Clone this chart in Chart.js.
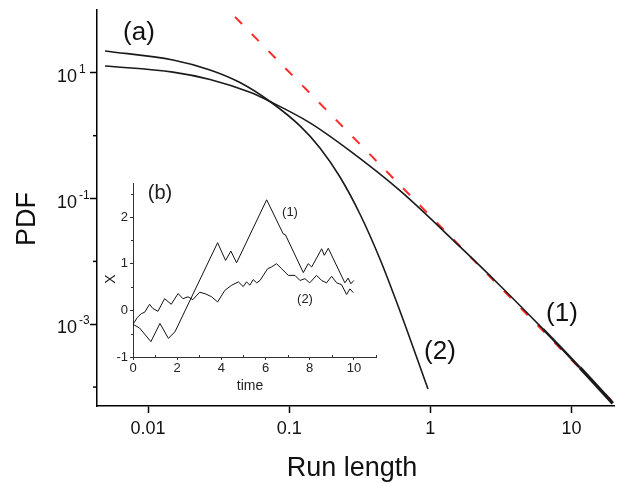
<!DOCTYPE html>
<html>
<head>
<meta charset="utf-8">
<script src="https://cdn.jsdelivr.net/npm/chart.js@4.4.0/dist/chart.umd.min.js"></script>
<style>
  html, body { margin: 0; padding: 0; background: #fff; }
  #wrap { position: relative; width: 620px; height: 483px; }
  #wrap canvas { position: absolute; left: 0; top: 0; }
</style>
</head>
<body>
<div id="wrap">
  <canvas id="main" width="620" height="483"></canvas>
  <canvas id="inset" width="620" height="483"></canvas>
</div>
<script>
// ---- panel (a): run length PDFs (log-log) ----
const curve1X = [0.00496, 0.01503, 0.0275, 0.0528, 0.0731, 0.1404, 0.2696, 0.6125, 1.62, 3.11, 6.27, 11.47, 19.6];
const curve1Y = [12.85, 10.28, 7.84, 4.90, 3.5, 1.60, 0.573, 0.1323, 0.01714, 4.14e-3, 8.43e-4, 2.04e-4, 5.52e-5];

const curve2X = [0.00496, 0.01503, 0.0275, 0.0448, 0.0731, 0.1193, 0.1652, 0.229, 0.317, 0.4395, 0.609, 0.962];
const curve2Y = [22.3, 16.0, 11.1, 7.0, 3.5, 1.43, 0.637, 0.220, 0.0568, 0.01092, 1.625e-3, 9.3e-5];

// red dashed power-law guide
const fitX = [0.0413, 19.6];
const fitY = [77.8, 5.8e-5];

const xTickValues = [0.01, 0.1, 1, 10];
const xTickLabels = ['0.01', '0.1', '1', '10'];
const yMajorTicks = [10, 0.1, 0.001];
const yLabelPowers = [1, -1, -3];
const yMinorTicks = [1, 0.01, 0.0001];

// ---- panel (b): sample trajectories ----
const time1 = [0, 0.3, 0.81, 1.22, 1.6, 1.9, 3.83, 4.19, 4.43, 4.69, 6.05, 6.8, 6.9, 7.71, 7.93, 8.09, 8.54, 8.66, 8.84, 9.59, 9.74, 9.86, 10.0];
const pos1 = [-0.3, -0.38, -0.67, -0.28, -0.6, -0.46, 1.45, 1.07, 1.27, 1.02, 2.37, 1.64, 1.62, 0.81, 1.0, 0.93, 1.32, 1.18, 1.33, 0.59, 0.69, 0.57, 0.64];

const time2 = [0, 0.2, 0.38, 0.53, 0.75, 0.9, 1.13, 1.43, 1.73, 2.04, 2.26, 2.49, 2.71, 3.02, 3.3, 3.56, 3.83, 4.16, 4.47, 4.77, 4.99, 5.14, 5.29, 5.44, 5.6, 5.75, 6.09, 6.27, 6.5, 6.73, 7.03, 7.33, 7.56, 7.78, 8.0, 8.31, 8.54, 8.76, 8.99, 9.22, 9.44, 9.67, 9.82, 9.97];
const pos2 = [-0.3, -0.15, -0.07, -0.04, 0.13, 0.04, -0.02, 0.25, 0.13, 0.36, 0.25, 0.29, 0.23, 0.39, 0.35, 0.29, 0.18, 0.43, 0.54, 0.61, 0.51, 0.61, 0.54, 0.66, 0.59, 0.64, 0.89, 0.93, 1.0, 0.89, 0.75, 0.75, 0.64, 0.68, 0.59, 0.75, 0.64, 0.59, 0.73, 0.59, 0.55, 0.34, 0.46, 0.38];

const insetXMinor = [1, 3, 5, 7, 9, 11];
const insetYMinor = [-0.5, 0.5, 1.5, 2.5];

const FONT = '"Liberation Sans", Arial, Helvetica, sans-serif';
Chart.defaults.font.family = FONT;
Chart.defaults.color = '#111';

const toPoints = (xs, ys) => xs.map((x, i) => ({ x: x, y: ys[i] }));

// extra marks and labels for panel (a)
const mainDecor = {
  id: 'mainDecor',
  afterDraw(chart) {
    const { ctx, scales: { x, y } } = chart;
    ctx.save();
    ctx.strokeStyle = '#000';
    ctx.lineWidth = 1.5;
    yMinorTicks.forEach(v => {
      const py = y.getPixelForValue(v);
      ctx.beginPath();
      ctx.moveTo(x.left - 4, py);
      ctx.lineTo(x.left, py);
      ctx.stroke();
    });

    ctx.fillStyle = '#111';
    ctx.textBaseline = 'alphabetic';
    yLabelPowers.forEach(p => {
      const py = y.getPixelForValue(Math.pow(10, p));
      ctx.font = '18px ' + FONT;
      ctx.textAlign = 'right';
      ctx.fillText('10', x.left - 20, py + 9);
      ctx.font = '12px ' + FONT;
      ctx.textAlign = 'left';
      ctx.fillText(String(p), x.left - 18, py);
    });

    // axis titles
    ctx.font = '27px ' + FONT;
    ctx.textAlign = 'center';
    ctx.fillText('Run length', 352, 476);
    ctx.save();
    ctx.translate(35, 219);
    ctx.rotate(-Math.PI / 2);
    ctx.fillText('PDF', 0, 0);
    ctx.restore();

    // panel tag and curve labels
    ctx.font = '26px ' + FONT;
    ctx.fillText('(a)', 139, 40);
    ctx.fillText('(1)', 562, 321);
    ctx.fillText('(2)', 440, 359);
    ctx.restore();
  }
};

new Chart(document.getElementById('main'), {
  type: 'line',
  data: {
    datasets: [
      {
        data: toPoints(curve1X, curve1Y),
        borderColor: '#1a1a1a',
        borderWidth: 1.6,
        pointRadius: 0,
        cubicInterpolationMode: 'monotone',
        order: 1,
        segment: {
          borderWidth: ctx => {
            const x0 = curve1X[ctx.p0DataIndex];
            return x0 >= 11 ? 3.4 : x0 >= 6 ? 2.4 : 1.6;
          }
        }
      },
      {
        data: toPoints(curve2X, curve2Y),
        borderColor: '#1a1a1a',
        borderWidth: 1.6,
        pointRadius: 0,
        cubicInterpolationMode: 'monotone',
        order: 2
      },
      {
        data: toPoints(fitX, fitY),
        borderColor: '#ff2a2a',
        borderWidth: 2,
        borderDash: [10, 14],
        pointRadius: 0,
        order: 5
      }
    ]
  },
  options: {
    responsive: false,
    animation: false,
    devicePixelRatio: 1,
    layout: { padding: { top: 10, right: 6, bottom: 0, left: 0 } },
    plugins: { legend: { display: false }, tooltip: { enabled: false } },
    scales: {
      x: {
        type: 'logarithmic',
        min: 0.00435,
        max: 20,
        afterBuildTicks: s => { s.ticks = xTickValues.map(v => ({ value: v })); },
        afterFit: s => { s.height = 77; },
        ticks: {
          autoSkip: false,
          maxRotation: 0,
          padding: 5,
          color: '#111',
          font: { size: 18 },
          callback: (v, i) => xTickLabels[i]
        },
        grid: { drawOnChartArea: false, tickLength: 7, tickColor: '#000', tickWidth: 1.5 },
        border: { display: true, color: '#000', width: 1.5 }
      },
      y: {
        type: 'logarithmic',
        min: 5e-5,
        max: 100,
        afterBuildTicks: s => { s.ticks = yMajorTicks.map(v => ({ value: v })); },
        afterFit: s => { s.width = 97; },
        ticks: { display: false },
        grid: { drawOnChartArea: false, tickLength: 7, tickColor: '#000', tickWidth: 1.5 },
        border: { display: true, color: '#000', width: 1.5 }
      }
    }
  },
  plugins: [mainDecor]
});

// extra marks and labels for panel (b)
const insetDecor = {
  id: 'insetDecor',
  afterDraw(chart) {
    const { ctx, scales: { x, y } } = chart;
    ctx.save();
    ctx.strokeStyle = '#333';
    ctx.lineWidth = 1;
    insetXMinor.forEach(v => {
      const px = Math.round(x.getPixelForValue(v)) + 0.5;
      ctx.beginPath();
      ctx.moveTo(px, y.bottom - 2);
      ctx.lineTo(px, y.bottom + 1);
      ctx.stroke();
    });
    insetYMinor.forEach(v => {
      const py = Math.round(y.getPixelForValue(v)) + 0.5;
      ctx.beginPath();
      ctx.moveTo(x.left - 2, py);
      ctx.lineTo(x.left, py);
      ctx.stroke();
    });

    ctx.fillStyle = '#222';
    ctx.textAlign = 'center';
    ctx.textBaseline = 'alphabetic';
    ctx.font = '14px ' + FONT;
    ctx.fillText('time', 250, 390);
    ctx.save();
    ctx.translate(115, 279);
    ctx.rotate(-Math.PI / 2);
    ctx.fillText('X', 0, 0);
    ctx.restore();

    ctx.font = '20px ' + FONT;
    ctx.fillText('(b)', 160, 199);
    ctx.font = '13px ' + FONT;
    ctx.fillText('(1)', 290, 216);
    ctx.fillText('(2)', 305, 303);
    ctx.restore();
  }
};

new Chart(document.getElementById('inset'), {
  type: 'line',
  data: {
    datasets: [
      {
        data: toPoints(time1, pos1),
        borderColor: '#111',
        borderWidth: 1,
        pointRadius: 0,
        tension: 0
      },
      {
        data: toPoints(time2, pos2),
        borderColor: '#111',
        borderWidth: 1,
        pointRadius: 0,
        tension: 0
      }
    ]
  },
  options: {
    responsive: false,
    animation: false,
    devicePixelRatio: 1,
    layout: { padding: { top: 183, right: 244, bottom: 101, left: 103 } },
    plugins: { legend: { display: false }, tooltip: { enabled: false } },
    scales: {
      x: {
        type: 'linear',
        min: 0,
        max: 11,
        afterFit: s => { s.height = 25; },
        ticks: { stepSize: 2, includeBounds: false, padding: 1, color: '#222', font: { size: 13 } },
        grid: { drawOnChartArea: false, tickLength: 3, tickColor: '#333' },
        border: { display: true, color: '#333', width: 1 }
      },
      y: {
        type: 'linear',
        min: -1,
        max: 2.73,
        afterFit: s => { s.width = 30; },
        ticks: { stepSize: 1, includeBounds: false, padding: 2, color: '#222', font: { size: 13 } },
        grid: { drawOnChartArea: false, tickLength: 3, tickColor: '#333' },
        border: { display: true, color: '#333', width: 1 }
      }
    }
  },
  plugins: [insetDecor]
});
</script>
</body>
</html>
